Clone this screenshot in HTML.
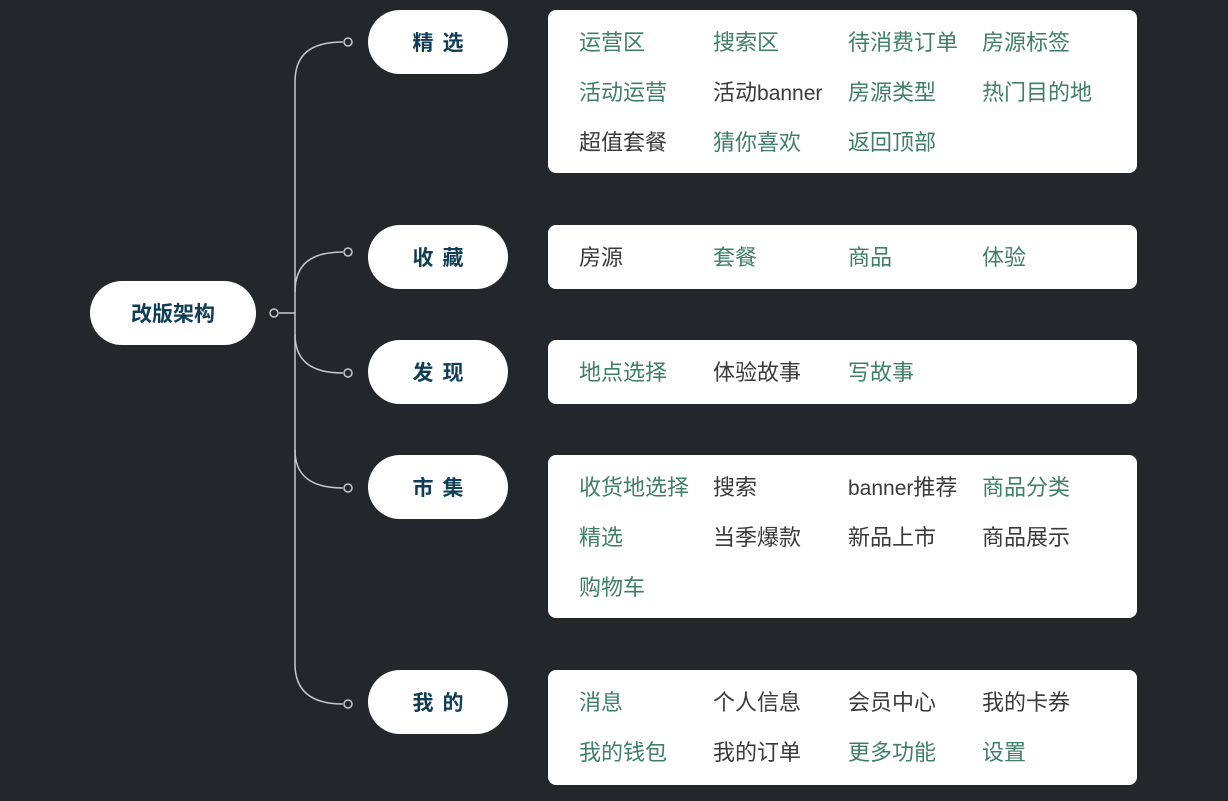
<!DOCTYPE html>
<html><head><meta charset="utf-8"><style>
body{margin:0;width:1228px;height:801px;background:#23272c;position:relative;overflow:hidden;font-family:"Liberation Sans","Noto Sans CJK SC",sans-serif}
.pill{position:absolute;background:#fff;border-radius:32px;height:64px;display:flex;align-items:center;justify-content:center;color:#0f3e56;font-weight:bold;font-size:21px}
.br{left:368px;width:140px;letter-spacing:9px;text-indent:9px}
.box{position:absolute;left:548px;width:589px;background:#fff;border-radius:8px}
.t{position:absolute;font-size:22px;line-height:24px;white-space:nowrap;color:#3e7f66;margin-top:1px}
.d{color:#3a3a3a}
.b{font-size:21px}
</style></head><body>
<svg width="1228" height="801" style="position:absolute;left:0;top:0">
<g fill="none" stroke="#c8c8c8" stroke-width="1.5">
<path d="M279,313 H295"/>
<path d="M295,82 V664"/>
<path d="M295,82 C295,55 310,42 343,42"/>
<path d="M295,292 C295,265 310,252 343,252"/>
<path d="M295,334 C295,360 310,373 343,373"/>
<path d="M295,450 C295,475 310,488 343,488"/>
<path d="M295,664 C295,690 310,704 343,704"/>
</g>
<g fill="#23272c" stroke="#c8c8c8" stroke-width="1.5">
<circle cx="274" cy="313" r="4"/><circle cx="348" cy="42" r="4"/><circle cx="348" cy="252" r="4"/><circle cx="348" cy="373" r="4"/><circle cx="348" cy="488" r="4"/><circle cx="348" cy="704" r="4"/>
</g></svg>
<div class="pill" style="left:90px;top:281px;width:166px">改版架构</div>
<div class="pill br" style="top:10px">精选</div>
<div class="pill br" style="top:225px">收藏</div>
<div class="pill br" style="top:340px">发现</div>
<div class="pill br" style="top:455px">市集</div>
<div class="pill br" style="top:670px">我的</div>

<div class="box" style="top:10px;height:163px"></div>
<div class="box" style="top:225px;height:64px"></div>
<div class="box" style="top:340px;height:64px"></div>
<div class="box" style="top:455px;height:163px"></div>
<div class="box" style="top:670px;height:115px"></div>

<div class="t" style="left:579px;top:30px">运营区</div>
<div class="t" style="left:713px;top:30px">搜索区</div>
<div class="t" style="left:848px;top:30px">待消费订单</div>
<div class="t" style="left:982px;top:30px">房源标签</div>
<div class="t" style="left:579px;top:80px">活动运营</div>
<div class="t d" style="left:713px;top:80px">活动<span class="b">banner</span></div>
<div class="t" style="left:848px;top:80px">房源类型</div>
<div class="t" style="left:982px;top:80px">热门目的地</div>
<div class="t d" style="left:579px;top:130px">超值套餐</div>
<div class="t" style="left:713px;top:130px">猜你喜欢</div>
<div class="t" style="left:848px;top:130px">返回顶部</div>

<div class="t d" style="left:579px;top:245px">房源</div>
<div class="t" style="left:713px;top:245px">套餐</div>
<div class="t" style="left:848px;top:245px">商品</div>
<div class="t" style="left:982px;top:245px">体验</div>

<div class="t" style="left:579px;top:360px">地点选择</div>
<div class="t d" style="left:713px;top:360px">体验故事</div>
<div class="t" style="left:848px;top:360px">写故事</div>

<div class="t" style="left:579px;top:475px">收货地选择</div>
<div class="t d" style="left:713px;top:475px">搜索</div>
<div class="t d" style="left:848px;top:475px"><span class="b">banner</span>推荐</div>
<div class="t" style="left:982px;top:475px">商品分类</div>
<div class="t" style="left:579px;top:525px">精选</div>
<div class="t d" style="left:713px;top:525px">当季爆款</div>
<div class="t d" style="left:848px;top:525px">新品上市</div>
<div class="t d" style="left:982px;top:525px">商品展示</div>
<div class="t" style="left:579px;top:575px">购物车</div>

<div class="t" style="left:579px;top:690px">消息</div>
<div class="t d" style="left:713px;top:690px">个人信息</div>
<div class="t d" style="left:848px;top:690px">会员中心</div>
<div class="t d" style="left:982px;top:690px">我的卡券</div>
<div class="t" style="left:579px;top:740px">我的钱包</div>
<div class="t d" style="left:713px;top:740px">我的订单</div>
<div class="t" style="left:848px;top:740px">更多功能</div>
<div class="t" style="left:982px;top:740px">设置</div>
</body></html>
